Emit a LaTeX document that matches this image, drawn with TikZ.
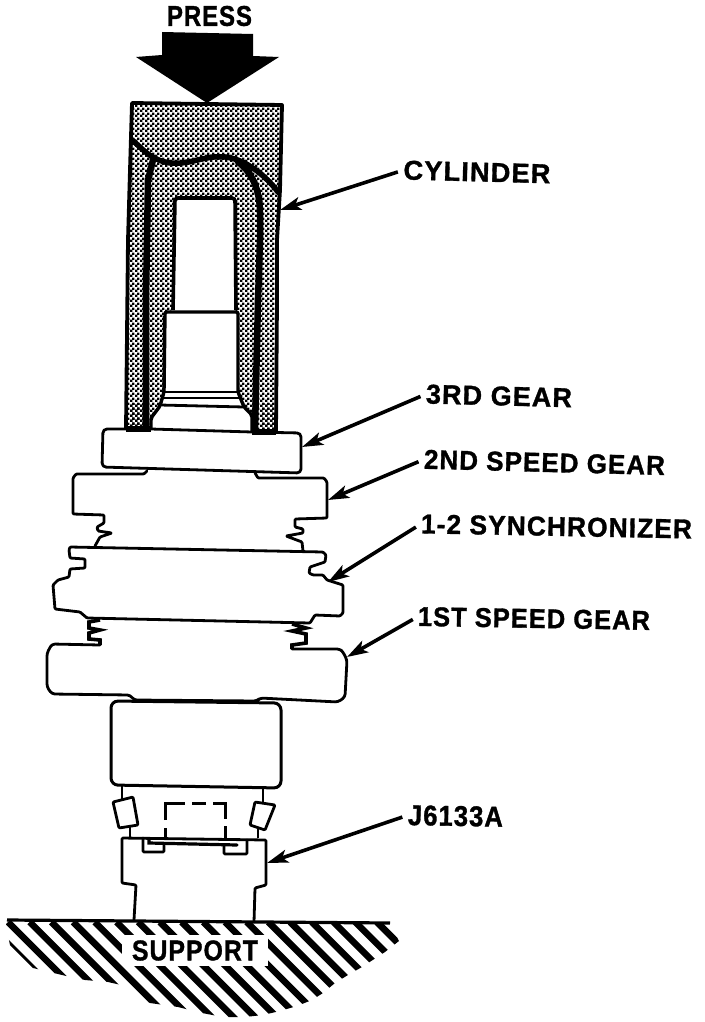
\documentclass[tikz,border=0pt]{standalone}
\usepackage{fontspec}
\setmainfont[BoldFeatures={FakeBold=1.2,LetterSpace=4}]{Liberation Sans}
\usetikzlibrary{arrows.meta,patterns}
\pgfdeclarepatternformonly{dith}{\pgfpointorigin}{\pgfqpoint{5pt}{5pt}}{\pgfqpoint{5pt}{5pt}}{%
  \pgfpathrectangle{\pgfpointorigin}{\pgfqpoint{2.7pt}{2.7pt}}%
  \pgfpathrectangle{\pgfqpoint{2.5pt}{2.5pt}}{\pgfqpoint{2.7pt}{2.7pt}}%
  \pgfusepath{fill}}
\newcommand\lab[3]{\resizebox{#1pt}{#2pt}{\bfseries #3}}
\tikzset{
  partline/.style={line width=2.8pt,line join=round,line cap=round,rounded corners=1pt},
  thickline/.style={line width=6.5pt,line join=round,line cap=round},
  leader/.style={line width=3.6pt,shorten <=6pt,-{Stealth[length=21pt,width=13pt,inset=5pt]}},
  lbl/.style={inner sep=0pt,outer sep=0pt}
}
\begin{document}
\begin{tikzpicture}[x=1pt,y=-1pt]
\useasboundingbox (0,0) rectangle (704,1022);
% press arrow
\fill (162,32) -- (253,34) -- (253,56) -- (279,57) -- (207,103) -- (136,57) -- (162,55) -- cycle;
% cylinder
\fill[pattern=dith,even odd rule]
  (132,103) -- (282,105) -- (280,190) -- (277,240) -- (277,300) -- (276,432) -- (252,432) -- (252,414) -- (244,406) -- (238,392) -- (238,312) -- (235,310) -- (235,198) -- (175,198) -- (172,310) -- (166,312) -- (165,392) -- (161,405) -- (155,410) -- (151,420) -- (151,429) -- (126,429) -- (128,240) -- (130,170) -- cycle;
\draw[line width=3.8pt,line join=round] (126,429) -- (128,240) -- (130,170) -- (132,103) -- (282,105) -- (280,190) -- (277,240) -- (277,300) -- (276,432);
\draw[line width=5.5pt,line cap=round] (132,140) .. controls (142,148) and (150,160) .. (170,163) .. controls (190,165) and (205,155) .. (225,157) .. controls (245,159) and (265,175) .. (278,192);
\draw[thickline] (153,160) -- (148,180) -- (146,300) -- (146,429);
\draw[thickline] (238,162) .. controls (252,172) and (260,190) .. (260,213) -- (260,240) -- (258,300) -- (255,432);
\draw[line width=3.6pt,rounded corners=3pt] (173,310) -- (175,198) -- (235,198) -- (236,310);
\draw[line width=3.4pt,rounded corners=2pt] (151,429) -- (151,418) -- (160,406) -- (164,392) -- (165,312) -- (238,312) -- (238,392) -- (244,407) -- (252,415) -- (252,432);
\draw[line width=2.2pt] (165,392) -- (238,392) (164,398) -- (240,398);
\draw[line width=2.8pt] (160,405) -- (244,407);
% 3rd gear
\draw[partline,fill=white,rounded corners=4pt] (151,429) -- (103,429) -- (102,467) -- (301,473) -- (301,433) -- (252,432) -- (151,429);
% thick joins to cylinder bottom
\draw[line width=6pt] (126,429) -- (151,429) (252,432) -- (276,432);
\fill[pattern=dith] (130,403) rectangle (143,426);
\fill[pattern=dith] (262,403) rectangle (274,429);
% 2nd gear
\draw[partline] (147,471) -- (144,474) -- (76,474) -- (73,478) -- (73,514) -- (104,515) -- (104,523) -- (97,527) -- (98,531) -- (112,533) -- (100,537) -- (95,546);
\draw[partline] (255,473) -- (258,478) -- (324,478) -- (327,482) -- (327,518) -- (295,519) -- (295,527) -- (303,529) -- (303,533) -- (286,536) -- (302,542) -- (303,551);
% synchronizer
\draw[partline,fill=white] (70,547) -- (323,552) -- (326,555) -- (325,562) -- (310,567) -- (309,573) -- (313,575) -- (323,575) -- (327,580) -- (343,585) -- (343,613) -- (340,616) -- (315,615) -- (310,623) -- (87,618) -- (80,612) -- (55,609) -- (53,585) -- (58,580) -- (69,577) -- (70,569) -- (85,568) -- (85,559) -- (70,558) -- (69,550) -- cycle;
% 1st gear
\draw[line width=3.6pt,line join=miter] (100,620) -- (89,622) -- (89,628) -- (100,630) -- (89,633) -- (89,639) -- (100,640) -- (100,645);
\draw[line width=3.6pt,line join=miter] (292,624) -- (306,628) -- (292,631) -- (306,634) -- (306,643) -- (292,645) -- (292,649);
\draw[partline,rounded corners=3pt] (100,645) -- (52,644) -- (47,653) -- (47,687) -- (52,694) -- (130,695) -- (134,700) -- (257,701) -- (260,698) -- (338,702) -- (345,697) -- (347,660) -- (343,652) -- (340,649) -- (292,649);
% lower block
\draw[partline,rounded corners=7pt,line width=3pt] (111,701) -- (281,703) -- (281,788) -- (111,785) -- cycle;
% rollers
\draw[partline] (113,802) -- (133,797) -- (138,825) -- (119,828) -- cycle;
\draw[partline] (255,802) -- (275,805) -- (265,830) -- (250,825) -- cycle;
\draw[line width=2.6pt] (122,786) -- (122,799) (130,826) -- (130,837) (263,787) -- (263,803) (258,828) -- (258,838);
% tool J6133A
\draw[partline] (134,920) -- (136,885) -- (122,883) -- (122,838) -- (266,840) -- (266,885) -- (255,888) -- (254,922);
\draw[partline] (143,838) -- (143,852) -- (164,852) -- (164,844);
\draw[partline] (224,846) -- (224,854) -- (247,854) -- (247,840);
\draw[line width=3.2pt,line cap=round] (149,839) -- (149,843) -- (237,845);
\draw[line width=3pt] (165,840) -- (165,828) (165,820) -- (165,803) -- (185,803) (192,803) -- (206,803) (213,803) -- (225,803) -- (225,819) (225,826) -- (225,840);
% support hatching
\begin{scope}
\clip (7,920) -- (390,923) -- (399,941) -- (385,952) -- (362,967) -- (348,975) -- (335,983) -- (323,993) -- (312,1000) -- (297,1006) -- (280,1011) -- (263,1015) -- (245,1017) -- (223,1017) -- (202,1013) -- (178,1007) -- (150,1003) -- (140,998) -- (130,987) -- (108,982) -- (85,980) -- (62,975) -- (33,968) -- (10,945) -- (6,925) -- cycle;
\foreach \k in {-6,...,18}
  \draw[line width=6.6pt] ({8+21.7*\k},922) -- ({8+21.7*\k+110},1032);
\end{scope}
\draw[line width=3.2pt] (7,920) -- (390,923);
% labels
\node[lbl] (lpress) at (209.5,16) {\lab{85}{20}{PRESS}};
\node[lbl,rotate=-1.5] (lcyl) at (477,172) {\lab{147}{19}{CYLINDER}};
\node[lbl,rotate=-1.5] (lthird) at (499,396) {\lab{146}{19}{3RD GEAR}};
\node[lbl,rotate=-1.5] (lsecond) at (544.5,462.5) {\lab{241}{19}{2ND SPEED GEAR}};
\node[lbl,rotate=-1.1] (lsync) at (556.5,526.5) {\lab{271}{19}{1-2 SYNCHRONIZER}};
\node[lbl,rotate=-1] (lfirst) at (534,618.5) {\lab{232}{19}{1ST SPEED GEAR}};
\node[lbl,rotate=-1] (ljtool) at (455.5,816) {\lab{95}{20}{J6133A}};
\node[fill=white,inner xsep=10pt,inner ysep=5pt,outer sep=0pt] (lsupport) at (195,950.5) {\lab{126}{20}{SUPPORT}};
% leader ends
\coordinate (tcyl) at (280,210);
\coordinate (tthird) at (302,447);
\coordinate (tsecond) at (328,500);
\coordinate (tsync) at (328,582);
\coordinate (tfirst) at (347,657);
\coordinate (tjtool) at (267,863);
\draw[leader] (lcyl.west) -- (tcyl);
\draw[leader] (lthird.west) -- (tthird);
\draw[leader] (lsecond.west) -- (tsecond);
\draw[leader] (lsync.west) -- (tsync);
\draw[leader] (lfirst.west) -- (tfirst);
\draw[leader] (ljtool.west) -- (tjtool);
\end{tikzpicture}
\end{document}
